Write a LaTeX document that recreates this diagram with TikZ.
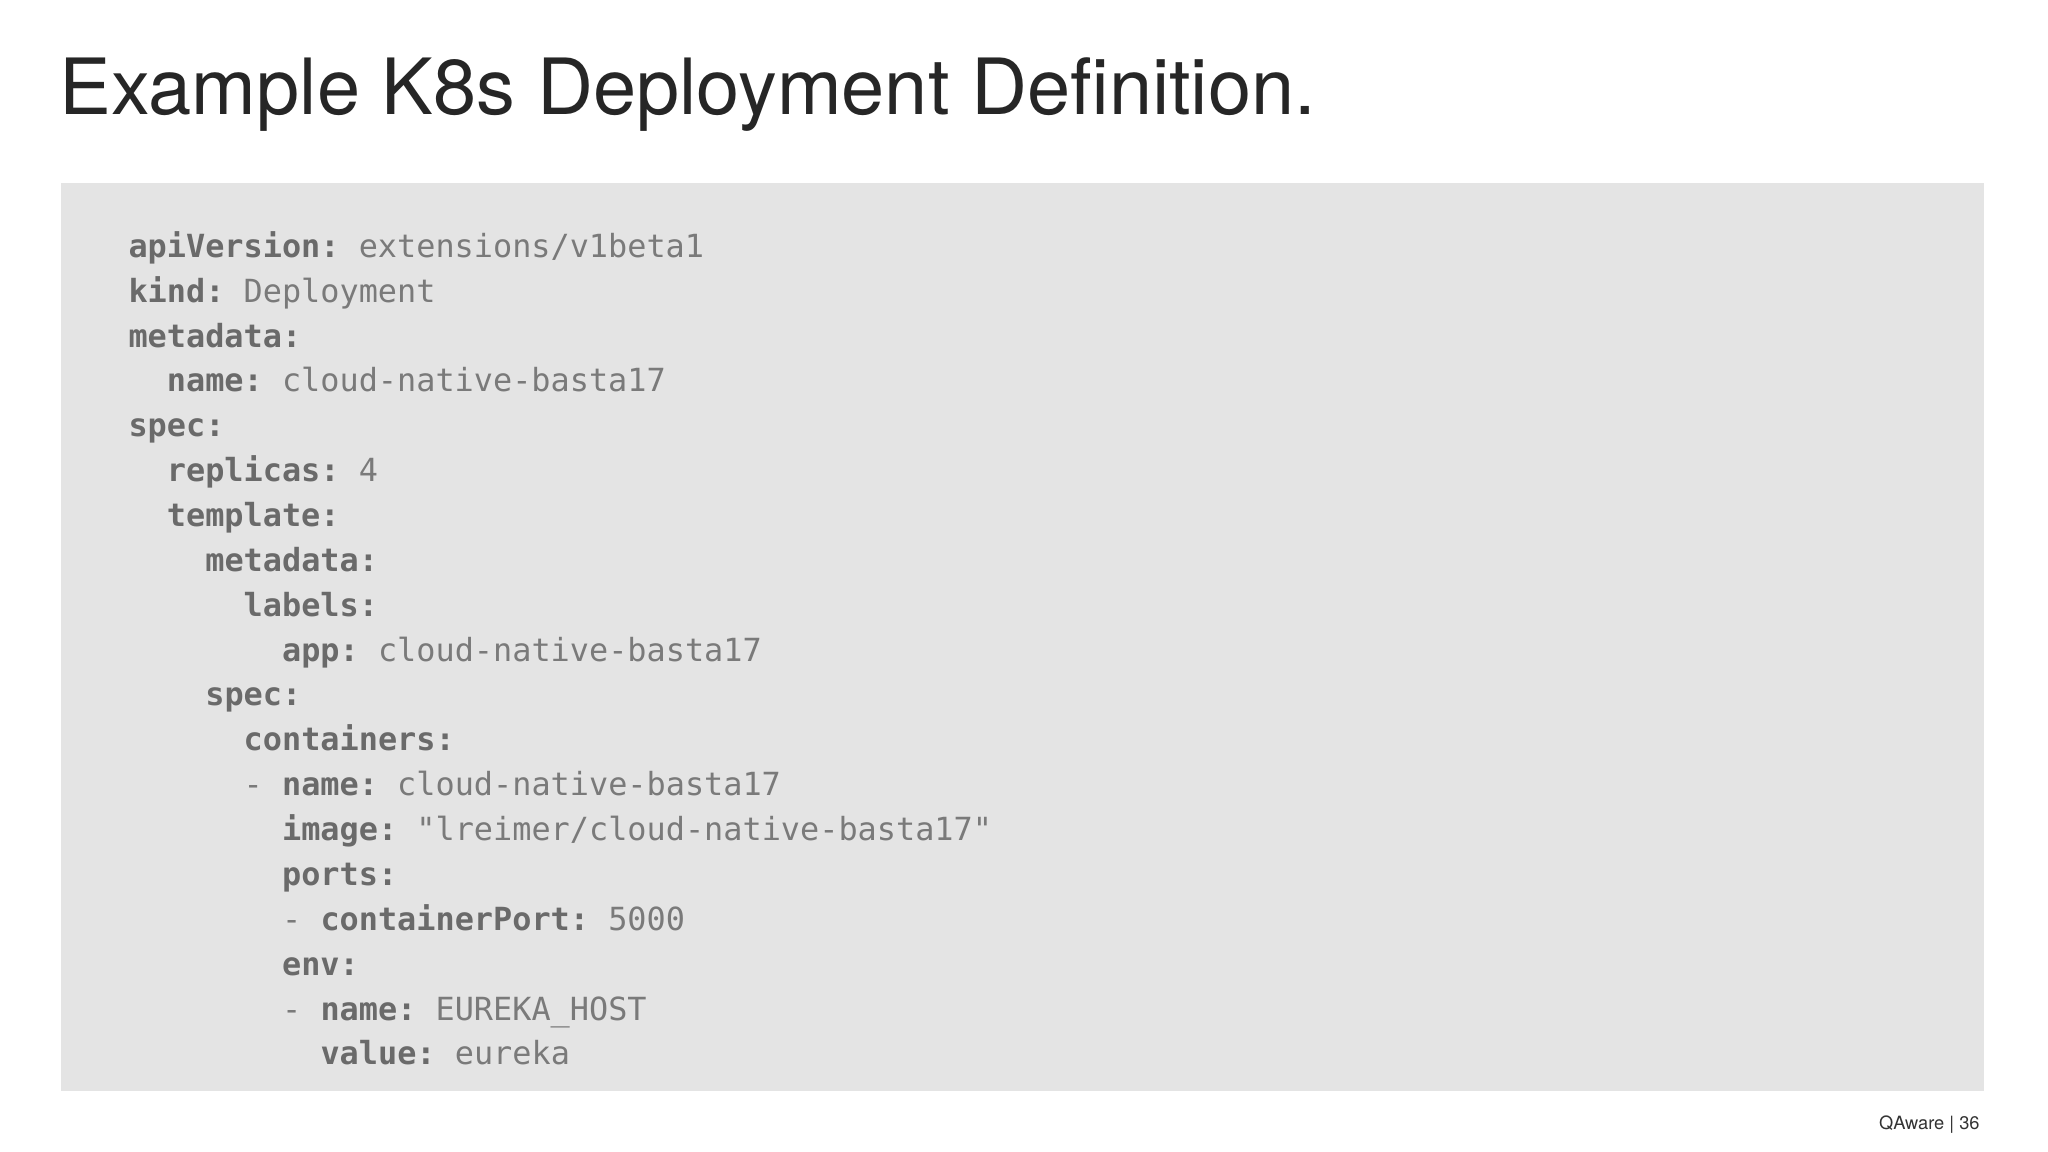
\documentclass[tikz,border=0pt]{standalone}
\usepackage{fontspec}
\setmainfont{TeX Gyre Heros}
\setmonofont{DejaVu Sans Mono}
\definecolor{boxg}{HTML}{E4E4E4}
\definecolor{keyc}{HTML}{6A6A6A}
\definecolor{valc}{HTML}{7A7A7A}
\newcommand{\kk}[1]{{\bfseries\color{keyc}#1:}}
\tikzset{codeln/.style={anchor=base west,inner sep=0pt,font=\ttfamily\fontsize{12.2}{14}\selectfont,text=valc}}
\begin{document}
\begin{tikzpicture}[x=0.5pt,y=-0.5pt]
\useasboundingbox (0,0) rectangle (1568,882);
\fill[white] (0,0) rectangle (1568,882);
\node[anchor=base west,inner sep=0pt,font=\fontsize{29.7}{33}\selectfont,text=black!85] (title) at (45,88) {Example K8s Deployment Definition.};
\fill[boxg] (47,140) rectangle (1519,835);
\foreach \i/\ind/\t in {
0/0/{\kk{apiVersion} extensions/v1beta1},
1/0/{\kk{kind} Deployment},
2/0/{\kk{metadata}},
3/1/{\kk{name} cloud-native-basta17},
4/0/{\kk{spec}},
5/1/{\kk{replicas} 4},
6/1/{\kk{template}},
7/2/{\kk{metadata}},
8/3/{\kk{labels}},
9/4/{\kk{app} cloud-native-basta17},
10/2/{\kk{spec}},
11/3/{\kk{containers}},
12/3/{- \kk{name} cloud-native-basta17},
13/4/{\kk{image} "lreimer/cloud-native-basta17"},
14/4/{\kk{ports}},
15/4/{- \kk{containerPort} 5000},
16/4/{\kk{env}},
17/4/{- \kk{name} EUREKA\_HOST},
18/5/{\kk{value} eureka}}
{\node[codeln] (l\i) at ({98+\ind*29.4},{197+\i*34.35}) {\t};}
\node[anchor=base east,inner sep=0pt,font=\fontsize{7}{8}\selectfont,text=black!80] (foot) at (1516,865) {QAware | 36};
\end{tikzpicture}
\end{document}
